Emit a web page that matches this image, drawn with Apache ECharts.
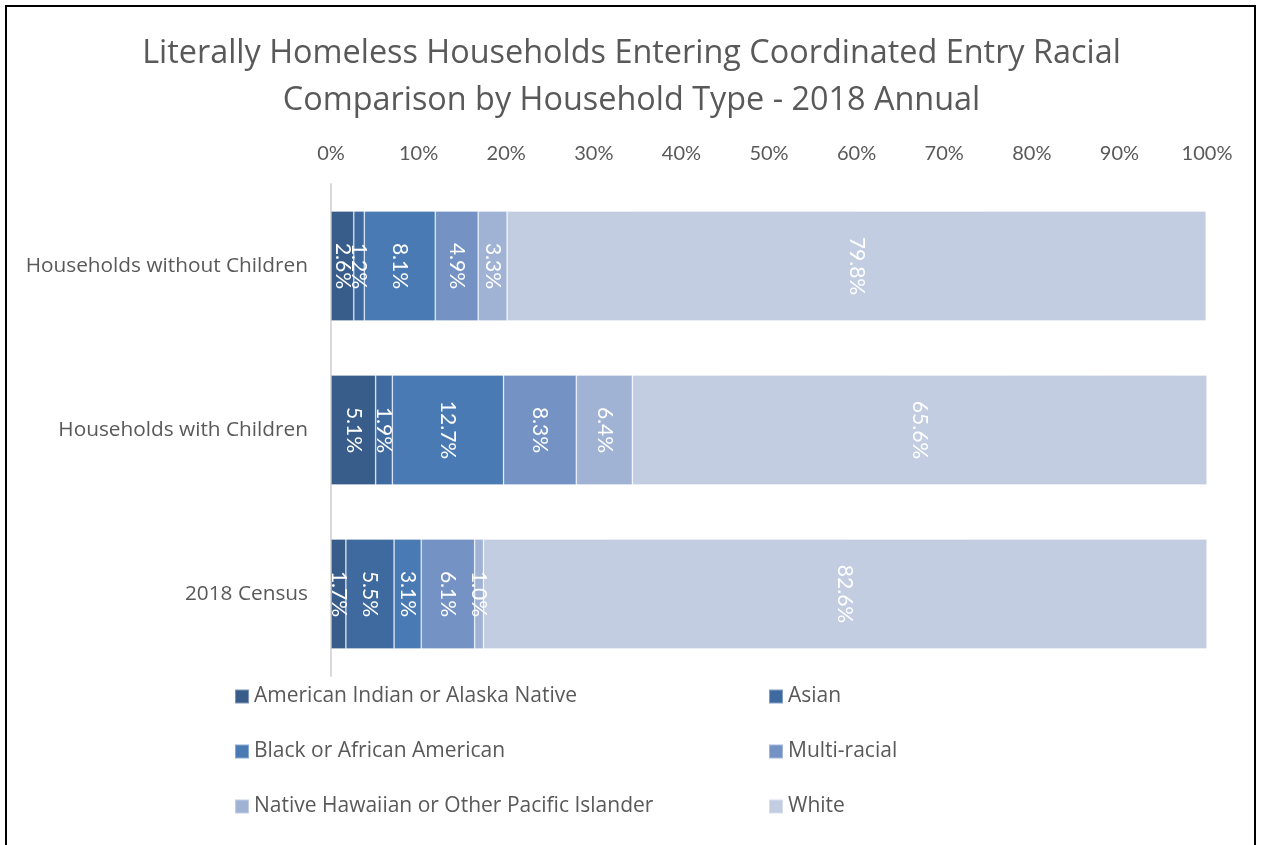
<!DOCTYPE html>
<html>
<head>
<meta charset="utf-8">
<script src="https://cdn.jsdelivr.net/npm/echarts@6/dist/echarts.min.js"></script>
<style>
html,body{margin:0;padding:0;background:#fff;overflow:hidden;}
#chart{position:absolute;left:0;top:0;width:1263px;height:845px;}
#frame{position:absolute;left:5px;top:5px;width:1247px;height:900px;border:2px solid #000;pointer-events:none;}
</style>
</head>
<body>
<div id="chart"></div>
<div id="frame"></div>
<script>
const categories = ['Households without Children', 'Households with Children', '2018 Census'];
const seriesNames = ['American Indian or Alaska Native', 'Asian', 'Black or African American', 'Multi-racial', 'Native Hawaiian or Other Pacific Islander', 'White'];
const americanIndian = [2.6, 5.1, 1.7];
const asian = [1.2, 1.9, 5.5];
const black = [8.1, 12.7, 3.1];
const multiRacial = [4.9, 8.3, 6.1];
const nativeHawaiian = [3.3, 6.4, 1.0];
const white = [79.8, 65.6, 82.6];
const xTicks = [0, 10, 20, 30, 40, 50, 60, 70, 80, 90, 100];

const seriesData = [americanIndian, asian, black, multiRacial, nativeHawaiian, white];
const colors = ['#385d8a', '#3f6a9f', '#4a7ab4', '#7493c4', '#a1b3d5', '#c3cde2'];
const FONT = '"Open Sans", sans-serif';
const FONT2 = 'Lato, sans-serif';

const chart = echarts.init(document.getElementById('chart'));
chart.setOption({
  animation: false,
  color: colors,
  title: {
    text: 'Literally Homeless Households Entering Coordinated Entry Racial\nComparison by Household Type - 2018 Annual',
    left: 'center',
    top: 25,
    textStyle: {fontFamily: FONT, fontSize: 32.4, fontWeight: 'normal', color: '#595959', lineHeight: 47}
  },
  grid: {left: 331, right: 56, top: 184, height: 492, containLabel: false},
  legend: [
    {
      orient: 'vertical', left: 229, top: 681, itemGap: 34, itemWidth: 14, itemHeight: 14,
      icon: 'rect',
      data: [seriesNames[0], seriesNames[2], seriesNames[4]],
      textStyle: {fontFamily: FONT, fontSize: 21, color: '#595959', padding: [0, 0, 0, 0]}
    },
    {
      orient: 'vertical', left: 763, top: 681, itemGap: 34, itemWidth: 14, itemHeight: 14,
      icon: 'rect',
      data: [seriesNames[1], seriesNames[3], seriesNames[5]],
      textStyle: {fontFamily: FONT, fontSize: 21, color: '#595959', padding: [0, 0, 0, 0]}
    }
  ],
  xAxis: {
    type: 'value', position: 'top', min: 0, max: 100, interval: 10,
    axisLine: {show: false}, axisTick: {show: false}, splitLine: {show: false},
    axisLabel: {
      fontFamily: FONT2, fontSize: 20, color: '#595959', margin: 20,
      formatter: v => xTicks.includes(v) ? v + '%' : ''
    }
  },
  yAxis: {
    type: 'category', inverse: true, data: categories,
    axisLine: {show: true, lineStyle: {color: '#d9d9d9', width: 2}},
    axisTick: {show: false},
    axisLabel: {fontFamily: FONT, fontSize: 20.8, color: '#595959', margin: 23}
  },
  series: seriesNames.map((name, i) => ({
    name: name,
    type: 'bar',
    stack: 'total',
    barCategoryGap: '33%',
    data: seriesData[i],
    itemStyle: {borderColor: 'rgba(255,255,255,0.35)', borderWidth: 0.8},
    label: {
      show: true, position: 'inside', rotate: -90,
      fontFamily: FONT2, fontSize: 21, color: '#ffffff',
      formatter: p => p.value.toFixed(1) + '%'
    }
  }))
});
</script>
</body>
</html>
